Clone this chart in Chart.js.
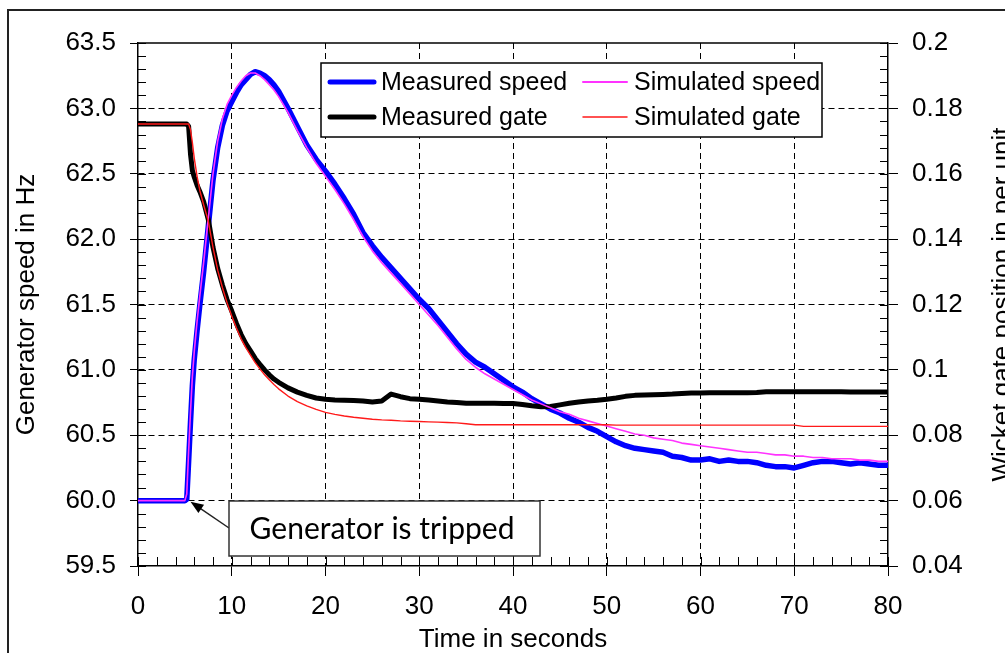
<!DOCTYPE html>
<html>
<head>
<meta charset="utf-8">
<title>Generator trip test</title>
<script src="https://cdn.jsdelivr.net/npm/chart.js@4.4.1/dist/chart.umd.min.js"></script>
<style>
  html, body { margin: 0; padding: 0; background: #fff; }
  canvas { display: block; }
</style>
</head>
<body>
<canvas id="tripChart" width="1005" height="653"></canvas>
<script>
// time axis (seconds), shared by all four series
const time = [0, 5, 5.2, 5.4, 5.6, 5.8, 6, 6.3, 6.6, 7, 7.5, 8, 8.5, 9, 9.5, 10, 10.5, 11, 11.5, 12, 12.5, 13, 13.5, 14, 14.5,
  15, 16, 17, 18, 19, 20, 21, 22, 23, 24, 25, 26, 27, 28, 29, 30, 31, 32, 33, 34, 35, 36, 37, 38, 39, 40,
  41, 42, 43, 44, 45, 46, 47, 48, 49, 50, 51, 52, 53, 54, 55, 56, 57, 58, 59, 60,
  61, 62, 63, 64, 65, 66, 67, 68, 69, 70, 71, 72, 73, 74, 75, 76, 77, 78, 79, 80];

// generator speed, Hz (left axis)
const measuredSpeed = [60.0, 60.0, 60.01, 60.3, 60.6, 60.88, 61.08, 61.3, 61.5, 61.75, 62.1, 62.45, 62.7, 62.87, 62.98, 63.05, 63.12, 63.18, 63.22, 63.26, 63.28, 63.27, 63.25, 63.22, 63.18,
  63.13, 63.0, 62.86, 62.72, 62.61, 62.52, 62.42, 62.31, 62.19, 62.05, 61.95, 61.86, 61.78, 61.7, 61.62, 61.54, 61.47, 61.38, 61.29, 61.2, 61.12, 61.06, 61.02, 60.97, 60.92, 60.87,
  60.83, 60.78, 60.74, 60.7, 60.67, 60.63, 60.6, 60.56, 60.53, 60.49, 60.45, 60.42, 60.4, 60.39, 60.38, 60.37, 60.34, 60.33, 60.31, 60.31,
  60.32, 60.3, 60.31, 60.3, 60.3, 60.29, 60.27, 60.26, 60.26, 60.25, 60.27, 60.29, 60.3, 60.3, 60.29, 60.28, 60.29, 60.28, 60.27, 60.27];
const simulatedSpeed = [60.0, 60.0, 60.05, 60.38, 60.68, 60.95, 61.14, 61.37, 61.57, 61.82, 62.16, 62.5, 62.75, 62.92, 63.03, 63.1, 63.16, 63.21, 63.25, 63.27, 63.27, 63.25, 63.22, 63.18, 63.14,
  63.09, 62.97, 62.83, 62.7, 62.58, 62.48, 62.38, 62.27, 62.15, 62.02, 61.91, 61.82, 61.74, 61.66, 61.58, 61.5, 61.42, 61.34, 61.25, 61.16, 61.08, 61.02, 60.97, 60.93, 60.89, 60.85,
  60.81, 60.77, 60.74, 60.71, 60.68, 60.66, 60.63, 60.61, 60.59, 60.57, 60.55, 60.53, 60.51, 60.5, 60.48, 60.47, 60.46, 60.44, 60.43, 60.42,
  60.41, 60.4, 60.39, 60.38, 60.37, 60.37, 60.36, 60.35, 60.35, 60.34, 60.34, 60.33, 60.33, 60.32, 60.32, 60.32, 60.31, 60.31, 60.3, 60.3];

// wicket gate position, per unit (right axis)
const measuredGate = [0.1752, 0.1752, 0.1752, 0.1745, 0.166, 0.161, 0.159, 0.1565, 0.1545, 0.1515, 0.146, 0.1375, 0.131, 0.126, 0.1215, 0.118, 0.1142, 0.1108, 0.108, 0.1058, 0.1035, 0.1017, 0.1, 0.0985, 0.0972,
  0.0962, 0.0945, 0.0932, 0.0922, 0.0914, 0.091, 0.0908, 0.0907, 0.0906, 0.0905, 0.0902, 0.0905, 0.0926, 0.0918, 0.0912, 0.091, 0.0908, 0.0905, 0.0902, 0.09, 0.0898, 0.0898, 0.0898, 0.0898, 0.0897, 0.0897,
  0.0894, 0.089, 0.0887, 0.0888, 0.0893, 0.0898, 0.0902, 0.0905, 0.0907, 0.091, 0.0914, 0.0919, 0.0922, 0.0923, 0.0924, 0.0925, 0.0926, 0.0928, 0.0929, 0.0929,
  0.093, 0.093, 0.093, 0.093, 0.093, 0.0931, 0.0933, 0.0933, 0.0933, 0.0933, 0.0933, 0.0933, 0.0933, 0.0933, 0.0933, 0.0932, 0.0932, 0.0932, 0.0932, 0.0932];
const simulatedGate = [0.1752, 0.1752, 0.1752, 0.1752, 0.1735, 0.1695, 0.1648, 0.1592, 0.1548, 0.1505, 0.1455, 0.1375, 0.1305, 0.1252, 0.1205, 0.1165, 0.1128, 0.1095, 0.1068, 0.1045, 0.1022, 0.1003, 0.0985, 0.097, 0.0955,
  0.0942, 0.092, 0.0903, 0.089, 0.0879, 0.087, 0.0864, 0.0859, 0.0855, 0.0852, 0.0849, 0.0847, 0.0846, 0.0844, 0.0843, 0.0842, 0.0841, 0.084, 0.0839, 0.0838, 0.0835, 0.0832, 0.0832, 0.0832, 0.0832, 0.0832,
  0.0832, 0.0832, 0.0832, 0.0832, 0.0832, 0.0832, 0.0832, 0.0832, 0.0832, 0.0832, 0.0831, 0.0831, 0.0831, 0.0831, 0.0831, 0.0831, 0.0831, 0.0831, 0.0831, 0.0831,
  0.0831, 0.0831, 0.0831, 0.0831, 0.0831, 0.0831, 0.0831, 0.0831, 0.0831, 0.0831, 0.0827, 0.0827, 0.0827, 0.0827, 0.0827, 0.0827, 0.0827, 0.0827, 0.0827, 0.0827];

// axis ticks
const timeTicks = [0, 10, 20, 30, 40, 50, 60, 70, 80];
const speedTicks = [59.5, 60.0, 60.5, 61.0, 61.5, 62.0, 62.5, 63.0, 63.5];
const gateTicks = [0.04, 0.06, 0.08, 0.1, 0.12, 0.14, 0.16, 0.18, 0.2];
const gateTickLabels = ['0.04', '0.06', '0.08', '0.1', '0.12', '0.14', '0.16', '0.18', '0.2'];

const FONT = "'Liberation Sans', Arial, sans-serif";
const toPoints = (vals) => time.map((t, i) => ({ x: t, y: vals[i] }));
const edgeClear = (lo, hi) => (c) => (c.tick && (c.tick.value === lo || c.tick.value === hi)) ? 'rgba(0,0,0,0)' : '#000';

Chart.defaults.font.family = FONT;
Chart.defaults.color = '#000';

// inner tick marks + top frame of the plot area
const plotFrame = {
  id: 'plotFrame',
  beforeDatasetsDraw(chart) {
    const { ctx, chartArea: a, scales } = chart;
    ctx.save();
    ctx.strokeStyle = '#000';
    ctx.lineWidth = 1;
    ctx.beginPath();
    for (let v = 0; v <= 80; v += 2) {
      const x = Math.round(scales.x.getPixelForValue(v)) + 0.5;
      ctx.moveTo(x, a.bottom); ctx.lineTo(x, a.bottom - 9);
    }
    for (let i = 0; i <= 40; i++) {
      const y = Math.round(scales.y.getPixelForValue(59.5 + i * 0.1)) + 0.5;
      ctx.moveTo(a.left, y); ctx.lineTo(a.left + 8, y);
    }
    for (let i = 0; i <= 40; i++) {
      const y = Math.round(scales.y2.getPixelForValue(0.04 + i * 0.004)) + 0.5;
      ctx.moveTo(a.right, y); ctx.lineTo(a.right - 8, y);
    }
    ctx.stroke();
    ctx.lineWidth = 1.5;
    ctx.beginPath();
    ctx.moveTo(a.left, a.top); ctx.lineTo(a.right, a.top);
    ctx.stroke();
    ctx.restore();
  }
};

// legend box, trip annotation, right axis title, outer frame
const extras = {
  id: 'extras',
  afterDraw(chart) {
    const { ctx, chartArea: a, scales } = chart;
    ctx.save();

    // legend
    ctx.fillStyle = '#fff';
    ctx.fillRect(321, 63, 501, 74);
    ctx.strokeStyle = '#000';
    ctx.lineWidth = 1.5;
    ctx.strokeRect(321, 63, 501, 74);
    ctx.font = '25px ' + FONT;
    ctx.textBaseline = 'middle';
    ctx.textAlign = 'left';
    chart.data.datasets.forEach((ds, i) => {
      const x = [330, 583][Math.floor(i / 2)];
      const y = [82, 117][i % 2];
      ctx.strokeStyle = ds.borderColor;
      ctx.lineWidth = ds.legendWidth;
      ctx.lineCap = 'round';
      ctx.beginPath();
      ctx.moveTo(x, y); ctx.lineTo(x + 44, y);
      ctx.stroke();
      ctx.fillStyle = '#000';
      ctx.fillText(ds.label, x + 51, y + 1);
    });

    // annotation
    const tipX = scales.x.getPixelForValue(5.6);
    const tipY = scales.y.getPixelForValue(60.0) + 1;
    const fromX = 229, fromY = 528;
    const ang = Math.atan2(tipY - fromY, tipX - fromX);
    ctx.strokeStyle = '#222';
    ctx.lineWidth = 1.5;
    ctx.lineCap = 'butt';
    ctx.beginPath();
    ctx.moveTo(fromX, fromY); ctx.lineTo(tipX - 10 * Math.cos(ang), tipY - 10 * Math.sin(ang));
    ctx.stroke();
    ctx.fillStyle = '#000';
    ctx.beginPath();
    ctx.moveTo(tipX, tipY);
    ctx.lineTo(tipX - 13 * Math.cos(ang) + 5 * Math.sin(ang), tipY - 13 * Math.sin(ang) - 5 * Math.cos(ang));
    ctx.lineTo(tipX - 13 * Math.cos(ang) - 5 * Math.sin(ang), tipY - 13 * Math.sin(ang) + 5 * Math.cos(ang));
    ctx.closePath();
    ctx.fill();
    ctx.fillStyle = '#fff';
    ctx.fillRect(229, 501, 311, 55);
    ctx.strokeStyle = '#333';
    ctx.strokeRect(229, 501, 311, 55);
    ctx.fillStyle = '#000';
    ctx.font = "30px Lato, 'Open Sans', sans-serif";
    ctx.textAlign = 'center';
    ctx.fillText('Generator is tripped', 382, 529);

    // right axis title (reads bottom to top)
    ctx.save();
    ctx.translate(1003, (a.top + a.bottom) / 2);
    ctx.rotate(-Math.PI / 2);
    ctx.font = '26px ' + FONT;
    ctx.fillText('Wicket gate position in per unit', 0, 0);
    ctx.restore();

    // outer frame
    ctx.strokeStyle = '#222';
    ctx.lineWidth = 2;
    ctx.beginPath();
    ctx.moveTo(8, 653); ctx.lineTo(8, 10); ctx.lineTo(1005, 10);
    ctx.stroke();
    ctx.restore();
  }
};

new Chart(document.getElementById('tripChart'), {
  type: 'line',
  data: {
    datasets: [
      { label: 'Measured speed', data: toPoints(measuredSpeed), yAxisID: 'y', borderColor: '#0000ff', borderWidth: 5.5, legendWidth: 5, order: 4 },
      { label: 'Measured gate', data: toPoints(measuredGate), yAxisID: 'y2', borderColor: '#000000', borderWidth: 5, legendWidth: 5, order: 3 },
      { label: 'Simulated speed', data: toPoints(simulatedSpeed), yAxisID: 'y', borderColor: '#ff33ff', borderWidth: 1.6, legendWidth: 2, order: 2 },
      { label: 'Simulated gate', data: toPoints(simulatedGate), yAxisID: 'y2', borderColor: '#ff1a1a', borderWidth: 1.4, legendWidth: 1.5, order: 1 }
    ]
  },
  options: {
    responsive: false,
    animation: false,
    devicePixelRatio: 1,
    layout: { padding: { top: 43, left: 0, right: 0, bottom: 0 } },
    elements: { point: { radius: 0 }, line: { tension: 0, borderJoinStyle: 'round' } },
    plugins: { legend: { display: false }, tooltip: { enabled: false } },
    scales: {
      x: {
        type: 'linear', position: 'bottom', min: 0, max: 80,
        afterBuildTicks: (s) => { s.ticks = timeTicks.map(v => ({ value: v })); },
        afterFit: (s) => { s.height = 87; },
        ticks: { font: { size: 26 }, padding: 15, maxRotation: 0, autoSkip: false },
        grid: { color: edgeClear(0, 80), tickColor: '#000', tickLength: 10, lineWidth: 1 },
        border: { display: true, color: '#000', width: 1.5, dash: [6, 4] },
        title: { display: true, text: 'Time in seconds', font: { size: 26, lineHeight: 1.0 }, padding: { top: 0, bottom: 0 } }
      },
      y: {
        type: 'linear', position: 'left', min: 59.5, max: 63.5,
        afterBuildTicks: (s) => { s.ticks = speedTicks.map(v => ({ value: v })); },
        afterFit: (s) => { s.width = 138; },
        ticks: { font: { size: 26 }, padding: 14, autoSkip: false, callback: (v) => v.toFixed(1) },
        grid: { color: edgeClear(59.5, 63.5), tickColor: '#000', tickLength: 8, lineWidth: 1 },
        border: { display: true, color: '#000', width: 1.5, dash: [6, 4] },
        title: { display: true, text: 'Generator speed in Hz', font: { size: 26 }, padding: { top: 11, bottom: 0 } }
      },
      y2: {
        type: 'linear', position: 'right', min: 0.04, max: 0.2,
        afterBuildTicks: (s) => { s.ticks = gateTicks.map(v => ({ value: v })); },
        afterFit: (s) => { s.width = 117; },
        ticks: { font: { size: 26 }, padding: 14, autoSkip: false, callback: (v, i) => gateTickLabels[i] },
        grid: { drawOnChartArea: false, tickColor: '#000', tickLength: 10 },
        border: { display: true, color: '#000', width: 1.5 }
      }
    }
  },
  plugins: [plotFrame, extras]
});
</script>
</body>
</html>
